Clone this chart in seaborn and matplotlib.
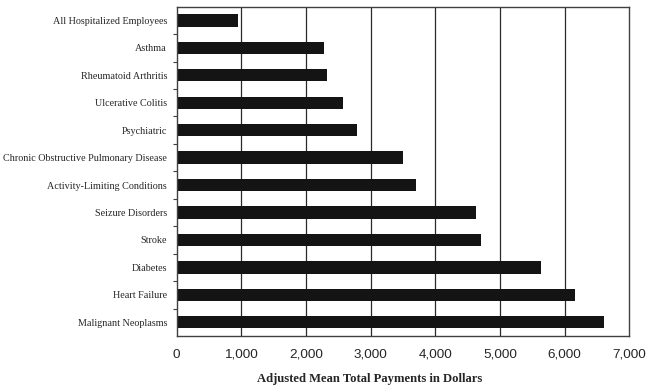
import numpy as np
import pandas as pd
import matplotlib
matplotlib.use("Agg")
import matplotlib.pyplot as plt
import seaborn as sns
from matplotlib.ticker import FuncFormatter

# kategoriler ve ortalama odemeler
categories = [
    "All Hospitalized Employees",
    "Asthma",
    "Rheumatoid Arthritis",
    "Ulcerative Colitis",
    "Psychiatric",
    "Chronic Obstructive Pulmonary Disease",
    "Activity-Limiting Conditions",
    "Seizure Disorders",
    "Stroke",
    "Diabetes",
    "Heart Failure",
    "Malignant Neoplasms",
]
payments = [950, 2280, 2320, 2575, 2790, 3505, 3705, 4625, 4710, 5640, 6160, 6610]
x_ticks = [0, 1000, 2000, 3000, 4000, 5000, 6000, 7000]

df = pd.DataFrame({"kategori": categories, "odeme": payments})

sns.set_style("white")

fig = plt.figure(figsize=(6.49, 3.86), dpi=100)
ax = fig.add_axes([0.2723, 0.1295, 0.6974, 0.8531])

sns.barplot(data=df, x="odeme", y="kategori", orient="h", color="#141414",
            saturation=1, width=0.45, linewidth=0, edgecolor="none", zorder=3, ax=ax)

ax.set_xlim(0, 7000)
ax.set_ylim(11.5, -0.5)
ax.set_xticks(x_ticks)
ax.xaxis.set_major_formatter(FuncFormatter(lambda v, p: f"{int(v):,}"))
ax.grid(False)
# dikey izgara cizgileri barlarin altinda
for t in x_ticks[1:-1]:
    ax.axvline(t, color="#2a2a2a", linewidth=0.9, zorder=0.5)

# kenar cizgileri
for s in ax.spines.values():
    s.set_visible(True)
    s.set_color("#404040")
    s.set_linewidth(1.0)
    s.set_zorder(4)

# kategori sinirlarinda kucuk tikler
ax.set_yticks(np.arange(0.5, 11.5, 1), minor=True)
ax.tick_params(axis="y", which="minor", length=3, width=0.8, color="#404040", left=True)
ax.tick_params(axis="y", which="major", length=0, pad=7)
ax.tick_params(axis="x", which="major", length=0, pad=9)

for lab in ax.get_yticklabels():
    lab.set_fontfamily("Liberation Serif")
    lab.set_fontsize(7.3)
for lab in ax.get_xticklabels():
    lab.set_fontfamily("Liberation Sans")
    lab.set_fontsize(9.7)

ax.set_ylabel("")
ax.set_xlabel("Adjusted Mean Total Payments in Dollars", fontfamily="Liberation Serif",
              fontsize=9.1, fontweight="bold")
ax.xaxis.set_label_coords(0.427, -0.111)

fig.savefig("out.png", dpi=100)
